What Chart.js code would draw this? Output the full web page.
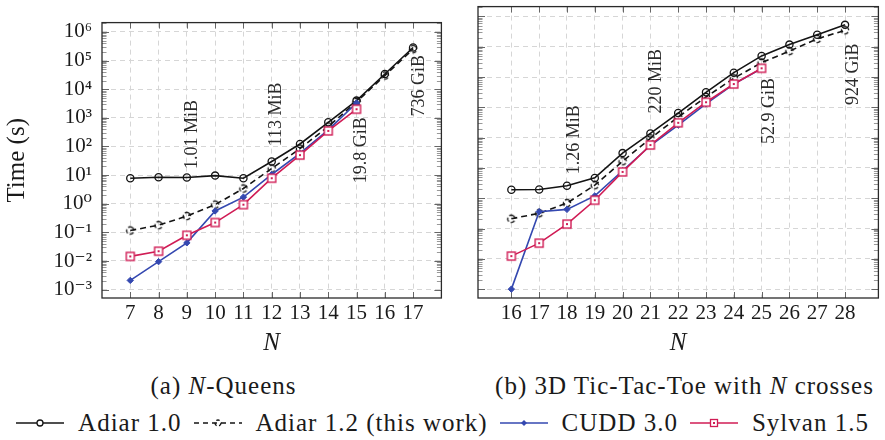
<!DOCTYPE html>
<html>
<head>
<meta charset="utf-8">
<script src="https://cdn.jsdelivr.net/npm/chart.js@4.4.0/dist/chart.umd.min.js"></script>
<style>
html,body{margin:0;padding:0;background:#fff;}
body{width:885px;height:440px;position:relative;overflow:hidden;font-family:'Liberation Serif','Times New Roman',serif;color:#1a1a1a;}
#cL{position:absolute;left:0;top:0;}
#cR{position:absolute;left:448px;top:0;}
.cap{position:absolute;top:371px;height:30px;line-height:30px;font-size:25px;letter-spacing:1px;text-align:center;white-space:nowrap;}
#legend{position:absolute;left:0;top:408px;width:885px;height:30px;display:flex;justify-content:center;align-items:center;font-size:25px;letter-spacing:1px;white-space:nowrap;line-height:30px;}
#legend .it{display:flex;align-items:center;}
#legend svg{display:block;margin-right:14px;}
#legend .lt{margin-right:12px;}
#legend .it:last-child .lt{margin-right:0;}
</style>
</head>
<body>
<canvas id="cL" width="448" height="360"></canvas>
<canvas id="cR" width="437" height="360"></canvas>
<div class="cap" style="left:0;width:447px;">(a) <i>N</i>-Queens</div>
<div class="cap" style="left:484px;width:401px;">(b) 3D Tic-Tac-Toe with <i>N</i> crosses</div>
<div id="legend">
  <span class="it"><svg width="48" height="20"><line x1="0" y1="10" x2="48" y2="10" stroke="#141414" stroke-width="1.5"/><circle cx="24" cy="10" r="3" fill="#fff" stroke="#141414" stroke-width="1.3"/></svg><span class="lt">Adiar 1.0</span></span>
  <span class="it"><svg width="48" height="20"><line x1="0" y1="10" x2="48" y2="10" stroke="#141414" stroke-width="1.5" stroke-dasharray="5 4"/><circle cx="24" cy="10" r="3" fill="none" stroke="#141414" stroke-width="1.3" stroke-dasharray="3.5 2.5"/></svg><span class="lt">Adiar 1.2 (this work)</span></span>
  <span class="it"><svg width="48" height="20"><line x1="0" y1="10" x2="48" y2="10" stroke="#3448b0" stroke-width="1.5"/><path d="M24 7 L27 10 L24 13 L21 10 Z" fill="#3448b0"/></svg><span class="lt">CUDD 3.0</span></span>
  <span class="it"><svg width="48" height="20"><line x1="0" y1="10" x2="48" y2="10" stroke="#d01c55" stroke-width="1.5"/><rect x="20.5" y="6.5" width="7" height="7" fill="#fff" stroke="#d01c55" stroke-width="1.3"/><rect x="23" y="9" width="2" height="2" fill="#d01c55"/></svg><span class="lt">Sylvan 1.5</span></span>
</div>
<script>
// ---------------- data ----------------
const queensN       = [7, 8, 9, 10, 11, 12, 13, 14, 15, 16, 17];
const queensAdiar10 = [7.8, 8.4, 8.2, 9.6, 7.8, 30, 122, 700, 4000, 34000, 286000];
const queensAdiar12 = [0.116, 0.178, 0.37, 0.93, 3.4, 17, 84, 500, 3600, 30000, 250000];
const queensCudd    = [0.0021, 0.0095, 0.043, 0.56, 1.7, 10.5, 57, 380, 3300];
const queensSylvan  = [0.0145, 0.022, 0.079, 0.22, 0.93, 7.8, 50, 350, 2000];
const queensMemN    = [9, 12, 15, 17];
const queensMemText = ['1.01 MiB', '113 MiB', '19.8 GiB', '736 GiB'];

const tttN       = [16, 17, 18, 19, 20, 21, 22, 23, 24, 25, 26, 27, 28];
const tttAdiar10 = [1.9, 1.95, 2.6, 4.7, 31, 138, 650, 3150, 14000, 50000, 118000, 250000, 530000];
const tttAdiar12 = [0.21, 0.32, 0.69, 2.7, 16.6, 95, 480, 2200, 9100, 30000, 72000, 182000, 350000];
const tttCudd    = [0.001, 0.36, 0.43, 1.2, 8.1, 55, 260, 1300, 5900, 19000];
const tttSylvan  = [0.0123, 0.033, 0.14, 0.86, 7.4, 57, 310, 1480, 5900, 19500];
const tttMemN    = [18, 21, 25, 28];
const tttMemText = ['1.26 MiB', '220 MiB', '52.9 GiB', '924 GiB'];

const yExpTicks = [-3, -2, -1, 0, 1, 2, 3, 4, 5, 6];

// ---------------- styling ----------------
const BLACK = '#141414', BLUE = '#3448b0', RED = '#d01c55';
const FONT = "'Liberation Serif','DejaVu Serif',serif";
const Y_MIN = 5.1e-4, Y_MAX = 2.12e6;
const SUP = {'-':'\u207B','0':'\u2070','1':'\u00B9','2':'\u00B2','3':'\u00B3','4':'\u2074','5':'\u2075','6':'\u2076','7':'\u2077','8':'\u2078','9':'\u2079'};
const sup = s => String(s).split('').map(c => SUP[c]).join('');
const isPow10 = v => Math.abs(Math.log10(v) - Math.round(Math.log10(v))) < 1e-9;

function mk(size, draw){ const c=document.createElement('canvas'); c.width=size; c.height=size; draw(c.getContext('2d'), size/2); return c; }
const dashedCircle = mk(12, (g,c)=>{ g.strokeStyle=BLACK; g.lineWidth=1.3; g.setLineDash([4.2,2.2]); g.beginPath(); g.arc(c,c,3.7,-1.2,-1.2+2*Math.PI); g.stroke(); });
const sylvanSquare = mk(12, (g,c)=>{ g.fillStyle='#fff'; g.fillRect(2,2,8,8); g.strokeStyle=RED; g.lineWidth=1.4; g.strokeRect(2,2,8,8); g.fillStyle=RED; g.fillRect(5,5,2,2); });

const pts = (ns, vs) => vs.map((v,i)=>({x:ns[i], y:v}));

function datasets(ns, a10, a12, cudd, syl){
  return [
    {label:'Adiar 1.0', data:pts(ns,a10), borderColor:BLACK, borderWidth:1.6, pointStyle:'circle', pointRadius:3.6, pointBorderWidth:1.3, pointBackgroundColor:'rgba(0,0,0,0)', pointBorderColor:BLACK, order:4},
    {label:'Adiar 1.2 (this work)', data:pts(ns,a12), borderColor:BLACK, borderWidth:1.6, borderDash:[6,4], pointStyle:dashedCircle, pointRadius:4, order:3},
    {label:'CUDD 3.0', data:pts(ns,cudd), borderColor:BLUE, borderWidth:1.6, pointStyle:'rectRot', pointRadius:3.2, pointBorderWidth:1, pointBackgroundColor:BLUE, pointBorderColor:BLUE, order:2},
    {label:'Sylvan 1.5', data:pts(ns,syl), borderColor:RED, borderWidth:1.6, pointStyle:sylvanSquare, pointRadius:5, order:1}
  ];
}

const axesPlugin = {
  id:'axesDeco',
  beforeDatasetsDraw(chart){
    const {ctx, chartArea:a, scales:{x,y}} = chart;
    ctx.save();
    ctx.lineWidth = 1;
    const ln = (x1,y1,x2,y2)=>{ ctx.beginPath(); ctx.moveTo(x1,y1); ctx.lineTo(x2,y2); ctx.stroke(); };
    y.ticks.forEach(t=>{
      const py = Math.round(y.getPixelForValue(t.value)) + 0.5;
      const maj = isPow10(t.value);
      const L = maj ? 7 : 4.5;
      ctx.strokeStyle = maj ? '#666' : '#999';
      ln(a.left, py, a.left+L, py); ln(a.right-L, py, a.right, py);
    });
    ctx.strokeStyle = '#666';
    x.ticks.forEach(t=>{
      const px = Math.round(x.getPixelForValue(t.value)) + 0.5;
      ln(px, a.top, px, a.top+6); ln(px, a.bottom-6, px, a.bottom);
    });
    ctx.restore();
  },
  afterDatasetsDraw(chart, args, opts){
    const {ctx, chartArea:a, scales:{x,y}} = chart;
    ctx.save();
    ctx.strokeStyle = '#2a2a2a'; ctx.lineWidth = 1.3;
    ctx.strokeRect(a.left, a.top, a.right-a.left, a.bottom-a.top);
    ctx.fillStyle = '#2a2a2a';
    ctx.font = "18px " + FONT;
    ctx.textAlign = 'center'; ctx.textBaseline = 'middle';
    (opts.memN||[]).forEach((n,i)=>{
      const px = x.getPixelForValue(n) + opts.dx[i];
      const py = y.getPixelForValue(Math.pow(10, opts.exp[i]));
      ctx.save(); ctx.translate(px, py); ctx.rotate(-Math.PI/2);
      ctx.fillText(opts.memText[i], 0, 0);
      ctx.restore();
    });
    ctx.restore();
  }
};

function makeChart(id, ns, xMin, xMax, dsets, showY, yW, padR, mem){
  const logTicks = [];
  yExpTicks.forEach(e=>{ for(let m=1;m<=9;m++){ const v=m*Math.pow(10,e); if(v>=Y_MIN && v<=Y_MAX) logTicks.push(v);} });
  return new Chart(document.getElementById(id), {
    type:'line',
    data:{datasets:dsets},
    plugins:[axesPlugin],
    options:{
      responsive:false, animation:false, devicePixelRatio:1,
      layout:{padding:{top:3, right:padR, left:0, bottom:0}},
      elements:{line:{tension:0}},
      plugins:{legend:{display:false}, tooltip:{enabled:false}, axesDeco:mem},
      scales:{
        x:{
          type:'linear', min:xMin, max:xMax, bounds:'data',
          afterBuildTicks: s => { s.ticks = ns.map(v=>({value:v})); },
          afterFit: s => { s.height = 62; },
          ticks:{autoSkip:false, maxRotation:0, padding:3, color:'#1a1a1a', font:{family:FONT, size:21}, callback:v=>String(v)},
          grid:{drawTicks:false, color:'#d6d6d6', lineWidth:1},
          border:{display:false, dash:[5,4]},
          title:{display:true, text:'N', color:'#1a1a1a', font:{family:FONT, size:25, style:'italic'}, padding:{top:0,bottom:2}}
        },
        y:{
          type:'logarithmic', min:Y_MIN, max:Y_MAX, bounds:'data',
          afterBuildTicks: s => { s.ticks = logTicks.map(v=>({value:v})); },
          afterFit: s => { s.width = yW; },
          ticks:{display:showY, autoSkip:false, padding:10, color:'#1a1a1a', font:{family:FONT, size:21},
            callback:v=> isPow10(v) ? '10' + sup(Math.round(Math.log10(v))) : ''},
          grid:{drawTicks:false, lineWidth:1, color: c => (c.tick && isPow10(c.tick.value)) ? '#d6d6d6' : 'rgba(0,0,0,0)'},
          border:{display:false, dash:[5,4]},
          title:{display:showY, text:'Time (s)', color:'#1a1a1a', font:{family:FONT, size:25}, padding:{top:2,bottom:0}}
        }
      }
    }
  });
}

makeChart('cL', queensN, 6, 18,
  datasets(queensN, queensAdiar10, queensAdiar12, queensCudd, queensSylvan), true, 102, 4,
  {memN:queensMemN, memText:queensMemText, exp:[2.42, 3.12, 1.87, 4.12], dx:[5, 5, 5, 6.5]});
makeChart('cR', tttN, 14.8, 29.2,
  datasets(tttN, tttAdiar10, tttAdiar12, tttCudd, tttSylvan), false, 30, 2,
  {memN:tttMemN, memText:tttMemText, exp:[1.93, 3.86, 2.88, 4.09], dx:[7, 6, 8, 8]});
</script>
</body>
</html>
